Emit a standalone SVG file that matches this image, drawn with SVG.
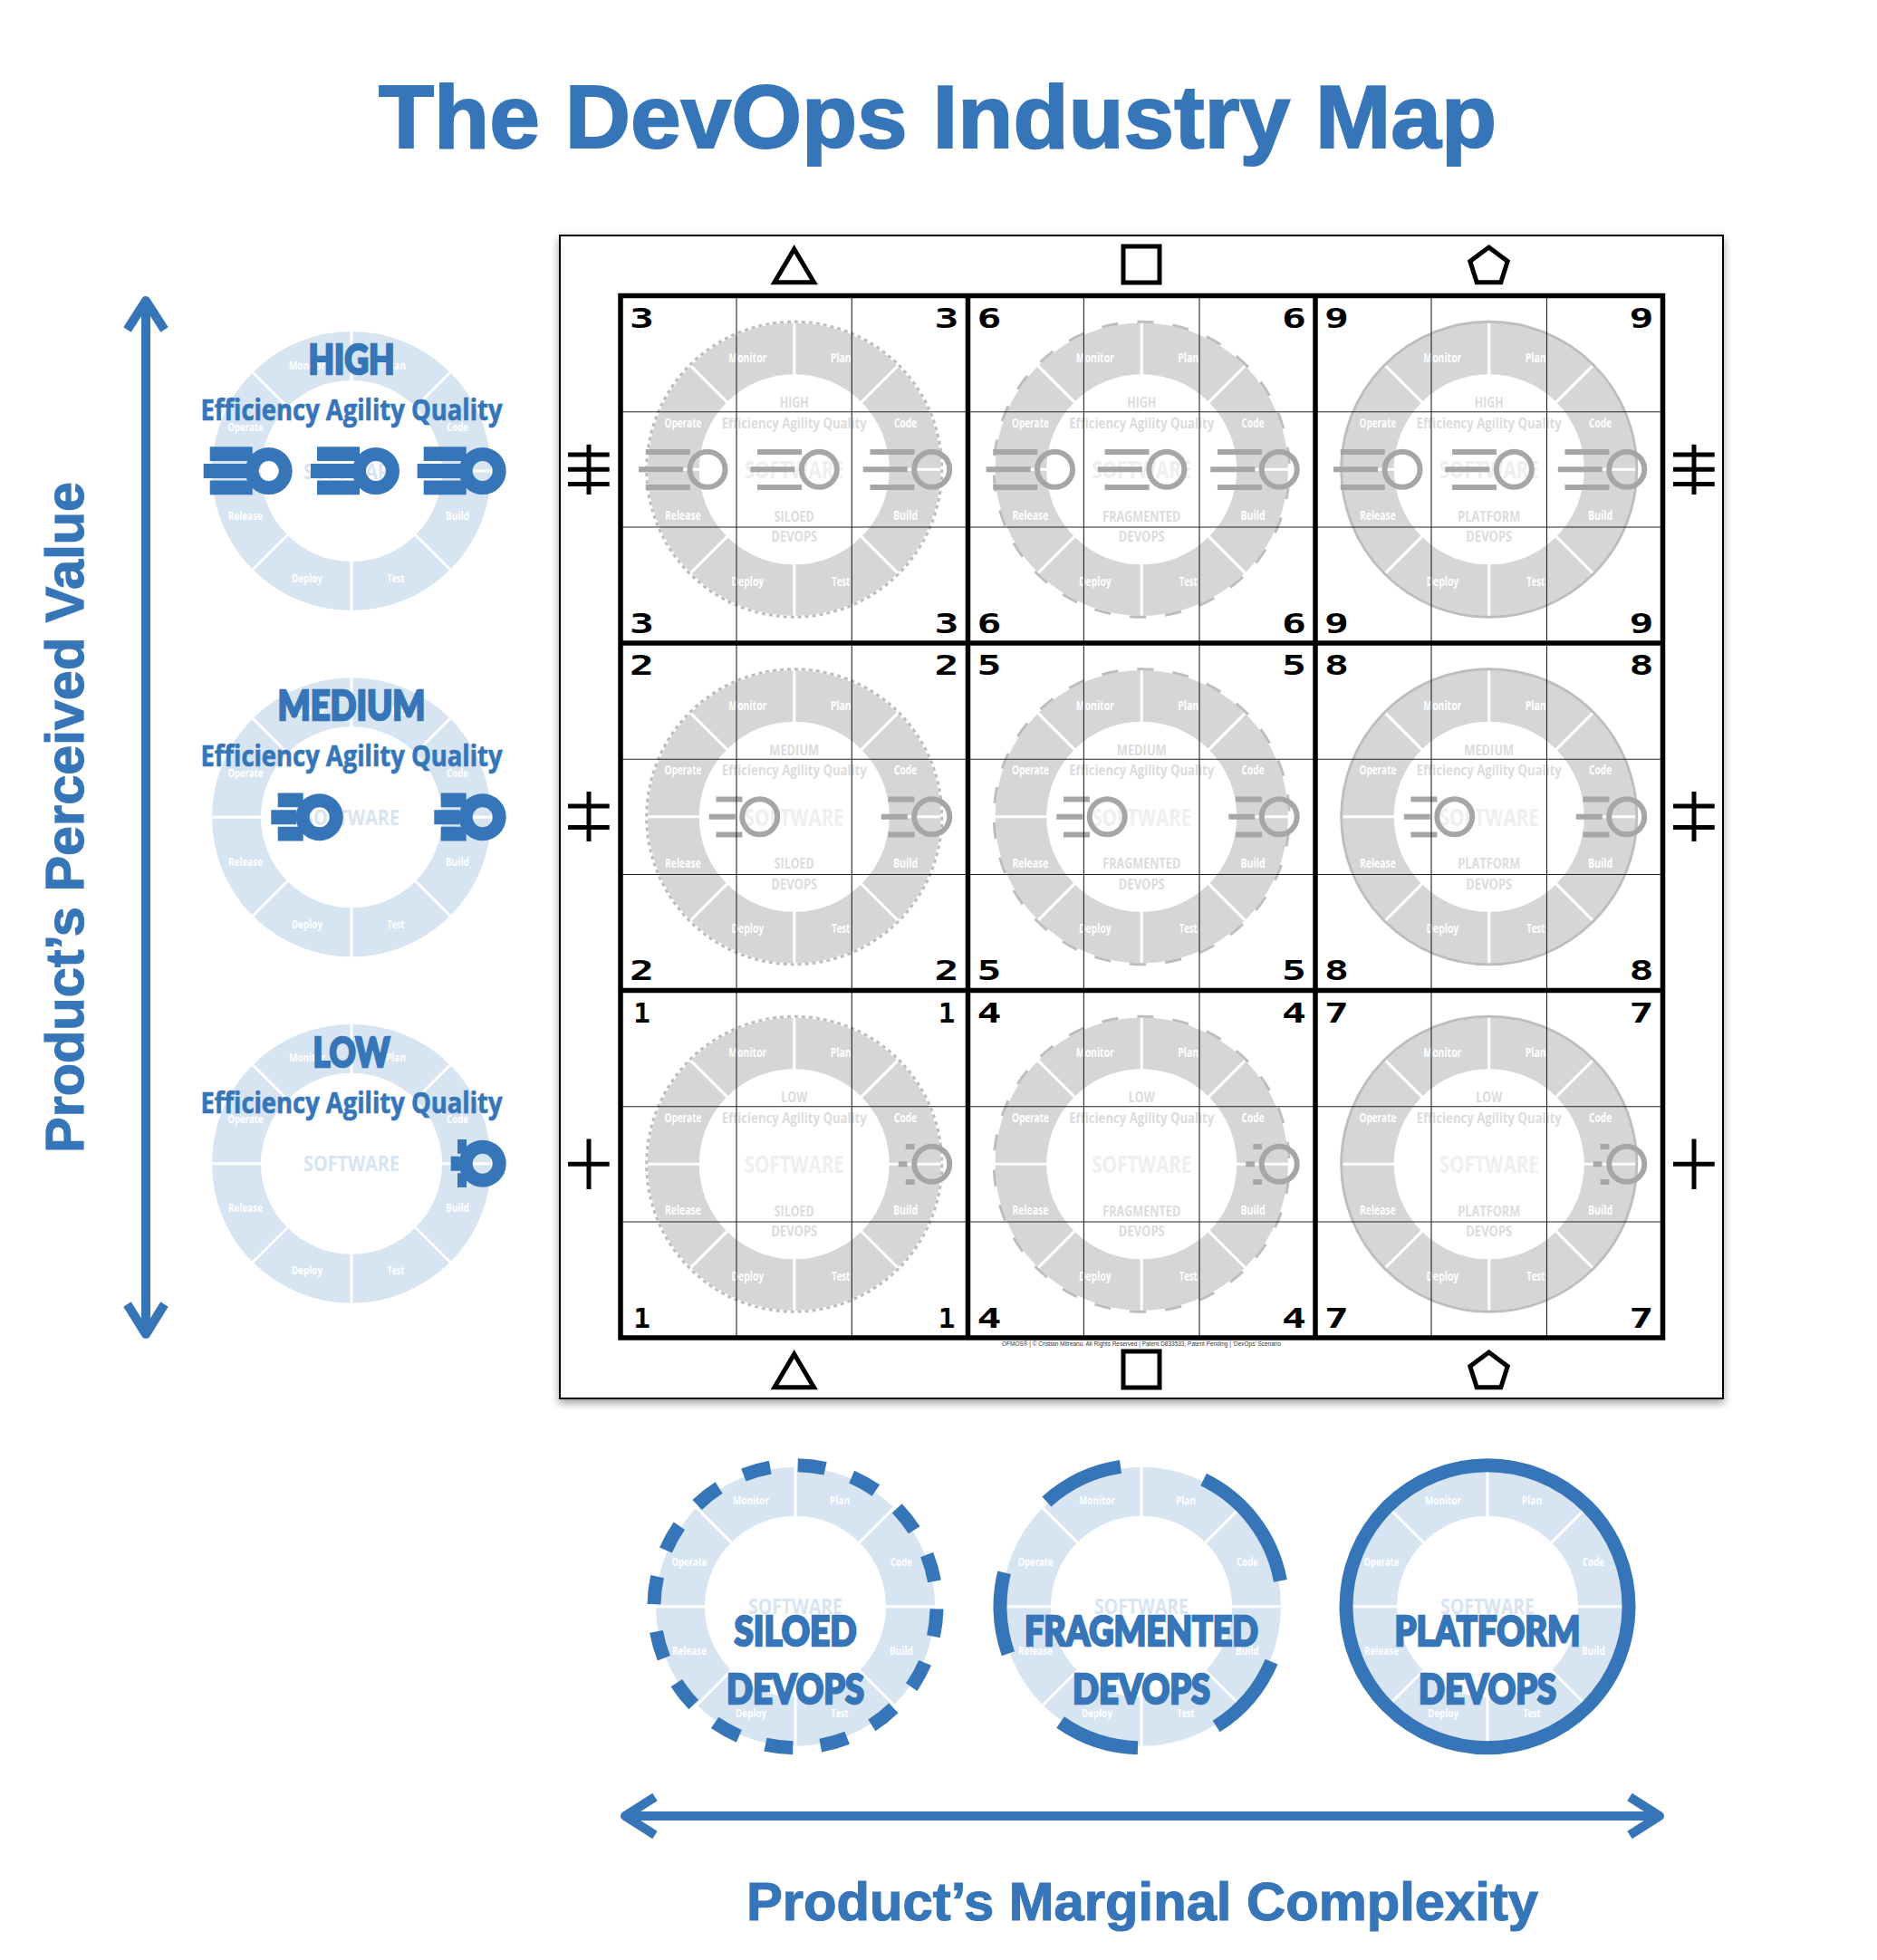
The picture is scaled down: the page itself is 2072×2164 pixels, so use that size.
<svg xmlns="http://www.w3.org/2000/svg" width="2072" height="2164" viewBox="0 0 2072 2164">
<style>
text{text-anchor:middle}
.ttl{font:700 99px "Liberation Sans",Arial,sans-serif;fill:#3676b8;stroke:#3676b8;stroke-width:2}
.ax{font:700 60px "Liberation Sans",Arial,sans-serif;fill:#3676b8;stroke:#3676b8;stroke-width:1.2;text-anchor:start}
.foot{font:400 6.6px "Liberation Sans",Arial,sans-serif;fill:#333}
.lbl text{font:700 13px "Open Sans","Liberation Sans",sans-serif;fill:#fff}
.num{font:700 31px "DejaVu Sans Mono","Liberation Mono",monospace;fill:#000}
.hv{font-family:Lato,"Liberation Sans",sans-serif;font-weight:900;stroke:#3676b8;stroke-width:2.6}
.ob{font-family:"Open Sans","Liberation Sans",sans-serif;font-weight:700}
.b{fill:#3676b8}
.ob.b{stroke:#3676b8;stroke-width:.7}
.sw{fill:#d7e4f1}
.bl{color:#d7e4f1}
.gy{color:#d6d6d6}
.ct{fill:#dcdcdc}
.cs{fill:#efefef}
.blr{fill:none;stroke:#3676b8;stroke-width:15}
.grr{fill:none;stroke:#bdbdbd;stroke-width:3}
.gg{fill:#a6a6a6;stroke:#a6a6a6}
.gb{fill:#3676b8;stroke:#3676b8}
.thick{fill:none;stroke:#000;stroke-width:5.5}
.thin{fill:none;stroke:#222;stroke-width:1.1}
.sym{fill:none;stroke:#000;stroke-width:5;stroke-miterlimit:10}
.tal{fill:none;stroke:#000;stroke-width:5}
.arr{fill:none;stroke:#3676b8;stroke-width:10;stroke-linejoin:round}
</style>
<defs>
<filter id="shadow" x="-5%" y="-5%" width="110%" height="110%"><feDropShadow dx="0" dy="4" stdDeviation="5" flood-color="#000" flood-opacity=".4"/></filter>
<g id="wheel">
<circle r="127" fill="none" stroke="currentColor" stroke-width="54"/>
<path d="M0-98V-156M0 98V156M-98 0H-156M98 0H156M69.3-69.3L110.3-110.3M-69.3-69.3L-110.3-110.3M69.3 69.3L110.3 110.3M-69.3 69.3L-110.3 110.3" fill="none" stroke="#fff" stroke-width="3"/>
</g>
<g id="g3"><path stroke="none" d="M-68.3-22.3h49v6h-49zM-76-3h49v6h-49zM-68.3 16.7h49v6h-49z"/><circle r="19.5" fill="none" stroke-width="6"/></g>
<g id="g2"><path stroke="none" d="M-48.3-22.3h29v6h-29zM-56-3h29v6h-29zM-48.3 16.7h29v6h-29z"/><circle r="19.5" fill="none" stroke-width="6"/></g>
<g id="g1"><path stroke="none" d="M-29-22.3h9.7v6h-9.7zM-37-3h9.7v6h-9.7zM-29 16.7h9.7v6h-9.7z"/><circle r="19.5" fill="none" stroke-width="6"/></g>
<g id="b3"><path stroke="none" d="M-65-26.7h47v15.7h-47zM-72-8h48v16h-48zM-65 10.5h47v15.7h-47z"/><circle r="18.5" fill="none" stroke-width="15"/></g>
<g id="b2"><path stroke="none" d="M-46-26.7h28v15.7h-28zM-53.4-8h28v16h-28zM-46 10.5h28v15.7h-28z"/><circle r="18.5" fill="none" stroke-width="15"/></g>
<g id="b1"><path stroke="none" d="M-27.7-26.7h10v15.7h-10zM-35-8h10v16h-10zM-27.7 10.5h10v15.7h-10z"/><circle r="18.5" fill="none" stroke-width="15"/></g>
</defs>
<rect width="2072" height="2164" fill="#fff"/>
<text class="ttl" x="1035" y="163" textLength="1234" lengthAdjust="spacingAndGlyphs">The DevOps Industry Map</text>

<g id="connectors">
<path class="arr" d="M161 332V1473M140.5 364L161 332L181.5 364M140.5 1440L161 1473L181.5 1440"/>
<path class="arr" d="M690 2005H1832M723 1984L690 2005L723 2026M1799 1984L1832 2005L1799 2026"/>
</g>
<text class="ax" transform="translate(92,1273) rotate(-90)" textLength="741" lengthAdjust="spacingAndGlyphs">Product’s Perceived Value</text>
<text class="ax" x="824" y="2120" textLength="874" lengthAdjust="spacingAndGlyphs">Product’s Marginal Complexity</text>

<g id="value-high" class="bl" transform="translate(388,520)">
<use href="#wheel"/>
<g class="lbl"><text x="-49" y="-112.5" textLength="40" lengthAdjust="spacingAndGlyphs">Monitor</text><text x="49" y="-112.5" textLength="22" lengthAdjust="spacingAndGlyphs">Plan</text><text x="117" y="-44.5" textLength="24" lengthAdjust="spacingAndGlyphs">Code</text><text x="117" y="53.5" textLength="26" lengthAdjust="spacingAndGlyphs">Build</text><text x="49" y="122.5" textLength="19" lengthAdjust="spacingAndGlyphs">Test</text><text x="-49" y="122.5" textLength="34" lengthAdjust="spacingAndGlyphs">Deploy</text><text x="-117" y="53.5" textLength="38" lengthAdjust="spacingAndGlyphs">Release</text><text x="-117" y="-44.5" textLength="39" lengthAdjust="spacingAndGlyphs">Operate</text></g>
<text class="ob sw" y="8.5" font-size="24" textLength="106" lengthAdjust="spacingAndGlyphs">SOFTWARE</text>
<text class="hv b" y="-107" font-size="46" textLength="95" lengthAdjust="spacingAndGlyphs">HIGH</text>
<text class="ob b" y="-56" font-size="33" textLength="333" lengthAdjust="spacingAndGlyphs">Efficiency Agility Quality</text>
<use href="#b3" class="gb" x="-91.3"/><use href="#b3" class="gb" x="27"/><use href="#b3" class="gb" x="144.7"/>
</g>
<g id="value-medium" class="bl" transform="translate(388,902.2)">
<use href="#wheel"/>
<g class="lbl"><text x="-49" y="-112.5" textLength="40" lengthAdjust="spacingAndGlyphs">Monitor</text><text x="49" y="-112.5" textLength="22" lengthAdjust="spacingAndGlyphs">Plan</text><text x="117" y="-44.5" textLength="24" lengthAdjust="spacingAndGlyphs">Code</text><text x="117" y="53.5" textLength="26" lengthAdjust="spacingAndGlyphs">Build</text><text x="49" y="122.5" textLength="19" lengthAdjust="spacingAndGlyphs">Test</text><text x="-49" y="122.5" textLength="34" lengthAdjust="spacingAndGlyphs">Deploy</text><text x="-117" y="53.5" textLength="38" lengthAdjust="spacingAndGlyphs">Release</text><text x="-117" y="-44.5" textLength="39" lengthAdjust="spacingAndGlyphs">Operate</text></g>
<text class="ob sw" y="8.5" font-size="24" textLength="106" lengthAdjust="spacingAndGlyphs">SOFTWARE</text>
<text class="hv b" y="-107" font-size="46" textLength="163" lengthAdjust="spacingAndGlyphs">MEDIUM</text>
<text class="ob b" y="-56" font-size="33" textLength="333" lengthAdjust="spacingAndGlyphs">Efficiency Agility Quality</text>
<use href="#b2" class="gb" x="-35.3"/><use href="#b2" class="gb" x="144.7"/>
</g>
<g id="value-low" class="bl" transform="translate(388,1284.7)">
<use href="#wheel"/>
<g class="lbl"><text x="-49" y="-112.5" textLength="40" lengthAdjust="spacingAndGlyphs">Monitor</text><text x="49" y="-112.5" textLength="22" lengthAdjust="spacingAndGlyphs">Plan</text><text x="117" y="-44.5" textLength="24" lengthAdjust="spacingAndGlyphs">Code</text><text x="117" y="53.5" textLength="26" lengthAdjust="spacingAndGlyphs">Build</text><text x="49" y="122.5" textLength="19" lengthAdjust="spacingAndGlyphs">Test</text><text x="-49" y="122.5" textLength="34" lengthAdjust="spacingAndGlyphs">Deploy</text><text x="-117" y="53.5" textLength="38" lengthAdjust="spacingAndGlyphs">Release</text><text x="-117" y="-44.5" textLength="39" lengthAdjust="spacingAndGlyphs">Operate</text></g>
<text class="ob sw" y="8.5" font-size="24" textLength="106" lengthAdjust="spacingAndGlyphs">SOFTWARE</text>
<text class="hv b" y="-107" font-size="46" textLength="85" lengthAdjust="spacingAndGlyphs">LOW</text>
<text class="ob b" y="-56" font-size="33" textLength="333" lengthAdjust="spacingAndGlyphs">Efficiency Agility Quality</text>
<use href="#b1" class="gb" x="144.7"/>
</g>

<g id="board">
<rect x="618" y="260" width="1284" height="1284" fill="#fff" stroke="#000" stroke-width="2" filter="url(#shadow)"/>
</g>

<g id="cell-3" class="gy" transform="translate(876.75,518.25)">
<g transform="scale(1.05)"><use href="#wheel"/><g class="lbl"><text x="-49" y="-112.5" textLength="40" lengthAdjust="spacingAndGlyphs">Monitor</text><text x="49" y="-112.5" textLength="22" lengthAdjust="spacingAndGlyphs">Plan</text><text x="117" y="-44.5" textLength="24" lengthAdjust="spacingAndGlyphs">Code</text><text x="117" y="53.5" textLength="26" lengthAdjust="spacingAndGlyphs">Build</text><text x="49" y="122.5" textLength="19" lengthAdjust="spacingAndGlyphs">Test</text><text x="-49" y="122.5" textLength="34" lengthAdjust="spacingAndGlyphs">Deploy</text><text x="-117" y="53.5" textLength="38" lengthAdjust="spacingAndGlyphs">Release</text><text x="-117" y="-44.5" textLength="39" lengthAdjust="spacingAndGlyphs">Operate</text></g></g>
<circle class="grr" r="163" stroke-dasharray="4 4"/>
<text class="ob ct" y="-68" font-size="16" textLength="32" lengthAdjust="spacingAndGlyphs">HIGH</text>
<text class="ob ct" y="-45.5" font-size="16" textLength="160" lengthAdjust="spacingAndGlyphs">Efficiency Agility Quality</text>
<text class="ob cs" y="10" font-size="26" textLength="110" lengthAdjust="spacingAndGlyphs">SOFTWARE</text>
<text class="ob ct" y="57.5" font-size="16" textLength="44" lengthAdjust="spacingAndGlyphs">SILOED</text>
<text class="ob ct" y="80" font-size="16" textLength="51" lengthAdjust="spacingAndGlyphs">DEVOPS</text>
<use href="#g3" class="gg" x="-95.7"/><use href="#g3" class="gg" x="27.6"/><use href="#g3" class="gg" x="152"/>
</g>
<g id="cell-6" class="gy" transform="translate(1260.25,518.25)">
<g transform="scale(1.05)"><use href="#wheel"/><g class="lbl"><text x="-49" y="-112.5" textLength="40" lengthAdjust="spacingAndGlyphs">Monitor</text><text x="49" y="-112.5" textLength="22" lengthAdjust="spacingAndGlyphs">Plan</text><text x="117" y="-44.5" textLength="24" lengthAdjust="spacingAndGlyphs">Code</text><text x="117" y="53.5" textLength="26" lengthAdjust="spacingAndGlyphs">Build</text><text x="49" y="122.5" textLength="19" lengthAdjust="spacingAndGlyphs">Test</text><text x="-49" y="122.5" textLength="34" lengthAdjust="spacingAndGlyphs">Deploy</text><text x="-117" y="53.5" textLength="38" lengthAdjust="spacingAndGlyphs">Release</text><text x="-117" y="-44.5" textLength="39" lengthAdjust="spacingAndGlyphs">Operate</text></g></g>
<circle class="grr" r="163" pathLength="360" stroke-dasharray="6.4 7.446" stroke-dashoffset="-5.2"/>
<text class="ob ct" y="-68" font-size="16" textLength="32" lengthAdjust="spacingAndGlyphs">HIGH</text>
<text class="ob ct" y="-45.5" font-size="16" textLength="160" lengthAdjust="spacingAndGlyphs">Efficiency Agility Quality</text>
<text class="ob cs" y="10" font-size="26" textLength="110" lengthAdjust="spacingAndGlyphs">SOFTWARE</text>
<text class="ob ct" y="57.5" font-size="16" textLength="86" lengthAdjust="spacingAndGlyphs">FRAGMENTED</text>
<text class="ob ct" y="80" font-size="16" textLength="51" lengthAdjust="spacingAndGlyphs">DEVOPS</text>
<use href="#g3" class="gg" x="-95.7"/><use href="#g3" class="gg" x="27.6"/><use href="#g3" class="gg" x="152"/>
</g>
<g id="cell-9" class="gy" transform="translate(1643.75,518.25)">
<g transform="scale(1.05)"><use href="#wheel"/><g class="lbl"><text x="-49" y="-112.5" textLength="40" lengthAdjust="spacingAndGlyphs">Monitor</text><text x="49" y="-112.5" textLength="22" lengthAdjust="spacingAndGlyphs">Plan</text><text x="117" y="-44.5" textLength="24" lengthAdjust="spacingAndGlyphs">Code</text><text x="117" y="53.5" textLength="26" lengthAdjust="spacingAndGlyphs">Build</text><text x="49" y="122.5" textLength="19" lengthAdjust="spacingAndGlyphs">Test</text><text x="-49" y="122.5" textLength="34" lengthAdjust="spacingAndGlyphs">Deploy</text><text x="-117" y="53.5" textLength="38" lengthAdjust="spacingAndGlyphs">Release</text><text x="-117" y="-44.5" textLength="39" lengthAdjust="spacingAndGlyphs">Operate</text></g></g>
<circle class="grr" r="163"/>
<text class="ob ct" y="-68" font-size="16" textLength="32" lengthAdjust="spacingAndGlyphs">HIGH</text>
<text class="ob ct" y="-45.5" font-size="16" textLength="160" lengthAdjust="spacingAndGlyphs">Efficiency Agility Quality</text>
<text class="ob cs" y="10" font-size="26" textLength="110" lengthAdjust="spacingAndGlyphs">SOFTWARE</text>
<text class="ob ct" y="57.5" font-size="16" textLength="69" lengthAdjust="spacingAndGlyphs">PLATFORM</text>
<text class="ob ct" y="80" font-size="16" textLength="51" lengthAdjust="spacingAndGlyphs">DEVOPS</text>
<use href="#g3" class="gg" x="-95.7"/><use href="#g3" class="gg" x="27.6"/><use href="#g3" class="gg" x="152"/>
</g>
<g id="cell-2" class="gy" transform="translate(876.75,901.75)">
<g transform="scale(1.05)"><use href="#wheel"/><g class="lbl"><text x="-49" y="-112.5" textLength="40" lengthAdjust="spacingAndGlyphs">Monitor</text><text x="49" y="-112.5" textLength="22" lengthAdjust="spacingAndGlyphs">Plan</text><text x="117" y="-44.5" textLength="24" lengthAdjust="spacingAndGlyphs">Code</text><text x="117" y="53.5" textLength="26" lengthAdjust="spacingAndGlyphs">Build</text><text x="49" y="122.5" textLength="19" lengthAdjust="spacingAndGlyphs">Test</text><text x="-49" y="122.5" textLength="34" lengthAdjust="spacingAndGlyphs">Deploy</text><text x="-117" y="53.5" textLength="38" lengthAdjust="spacingAndGlyphs">Release</text><text x="-117" y="-44.5" textLength="39" lengthAdjust="spacingAndGlyphs">Operate</text></g></g>
<circle class="grr" r="163" stroke-dasharray="4 4"/>
<text class="ob ct" y="-68" font-size="16" textLength="55" lengthAdjust="spacingAndGlyphs">MEDIUM</text>
<text class="ob ct" y="-45.5" font-size="16" textLength="160" lengthAdjust="spacingAndGlyphs">Efficiency Agility Quality</text>
<text class="ob cs" y="10" font-size="26" textLength="110" lengthAdjust="spacingAndGlyphs">SOFTWARE</text>
<text class="ob ct" y="57.5" font-size="16" textLength="44" lengthAdjust="spacingAndGlyphs">SILOED</text>
<text class="ob ct" y="80" font-size="16" textLength="51" lengthAdjust="spacingAndGlyphs">DEVOPS</text>
<use href="#g2" class="gg" x="-38"/><use href="#g2" class="gg" x="152"/>
</g>
<g id="cell-5" class="gy" transform="translate(1260.25,901.75)">
<g transform="scale(1.05)"><use href="#wheel"/><g class="lbl"><text x="-49" y="-112.5" textLength="40" lengthAdjust="spacingAndGlyphs">Monitor</text><text x="49" y="-112.5" textLength="22" lengthAdjust="spacingAndGlyphs">Plan</text><text x="117" y="-44.5" textLength="24" lengthAdjust="spacingAndGlyphs">Code</text><text x="117" y="53.5" textLength="26" lengthAdjust="spacingAndGlyphs">Build</text><text x="49" y="122.5" textLength="19" lengthAdjust="spacingAndGlyphs">Test</text><text x="-49" y="122.5" textLength="34" lengthAdjust="spacingAndGlyphs">Deploy</text><text x="-117" y="53.5" textLength="38" lengthAdjust="spacingAndGlyphs">Release</text><text x="-117" y="-44.5" textLength="39" lengthAdjust="spacingAndGlyphs">Operate</text></g></g>
<circle class="grr" r="163" pathLength="360" stroke-dasharray="6.4 7.446" stroke-dashoffset="-5.2"/>
<text class="ob ct" y="-68" font-size="16" textLength="55" lengthAdjust="spacingAndGlyphs">MEDIUM</text>
<text class="ob ct" y="-45.5" font-size="16" textLength="160" lengthAdjust="spacingAndGlyphs">Efficiency Agility Quality</text>
<text class="ob cs" y="10" font-size="26" textLength="110" lengthAdjust="spacingAndGlyphs">SOFTWARE</text>
<text class="ob ct" y="57.5" font-size="16" textLength="86" lengthAdjust="spacingAndGlyphs">FRAGMENTED</text>
<text class="ob ct" y="80" font-size="16" textLength="51" lengthAdjust="spacingAndGlyphs">DEVOPS</text>
<use href="#g2" class="gg" x="-38"/><use href="#g2" class="gg" x="152"/>
</g>
<g id="cell-8" class="gy" transform="translate(1643.75,901.75)">
<g transform="scale(1.05)"><use href="#wheel"/><g class="lbl"><text x="-49" y="-112.5" textLength="40" lengthAdjust="spacingAndGlyphs">Monitor</text><text x="49" y="-112.5" textLength="22" lengthAdjust="spacingAndGlyphs">Plan</text><text x="117" y="-44.5" textLength="24" lengthAdjust="spacingAndGlyphs">Code</text><text x="117" y="53.5" textLength="26" lengthAdjust="spacingAndGlyphs">Build</text><text x="49" y="122.5" textLength="19" lengthAdjust="spacingAndGlyphs">Test</text><text x="-49" y="122.5" textLength="34" lengthAdjust="spacingAndGlyphs">Deploy</text><text x="-117" y="53.5" textLength="38" lengthAdjust="spacingAndGlyphs">Release</text><text x="-117" y="-44.5" textLength="39" lengthAdjust="spacingAndGlyphs">Operate</text></g></g>
<circle class="grr" r="163"/>
<text class="ob ct" y="-68" font-size="16" textLength="55" lengthAdjust="spacingAndGlyphs">MEDIUM</text>
<text class="ob ct" y="-45.5" font-size="16" textLength="160" lengthAdjust="spacingAndGlyphs">Efficiency Agility Quality</text>
<text class="ob cs" y="10" font-size="26" textLength="110" lengthAdjust="spacingAndGlyphs">SOFTWARE</text>
<text class="ob ct" y="57.5" font-size="16" textLength="69" lengthAdjust="spacingAndGlyphs">PLATFORM</text>
<text class="ob ct" y="80" font-size="16" textLength="51" lengthAdjust="spacingAndGlyphs">DEVOPS</text>
<use href="#g2" class="gg" x="-38"/><use href="#g2" class="gg" x="152"/>
</g>
<g id="cell-1" class="gy" transform="translate(876.75,1285.25)">
<g transform="scale(1.05)"><use href="#wheel"/><g class="lbl"><text x="-49" y="-112.5" textLength="40" lengthAdjust="spacingAndGlyphs">Monitor</text><text x="49" y="-112.5" textLength="22" lengthAdjust="spacingAndGlyphs">Plan</text><text x="117" y="-44.5" textLength="24" lengthAdjust="spacingAndGlyphs">Code</text><text x="117" y="53.5" textLength="26" lengthAdjust="spacingAndGlyphs">Build</text><text x="49" y="122.5" textLength="19" lengthAdjust="spacingAndGlyphs">Test</text><text x="-49" y="122.5" textLength="34" lengthAdjust="spacingAndGlyphs">Deploy</text><text x="-117" y="53.5" textLength="38" lengthAdjust="spacingAndGlyphs">Release</text><text x="-117" y="-44.5" textLength="39" lengthAdjust="spacingAndGlyphs">Operate</text></g></g>
<circle class="grr" r="163" stroke-dasharray="4 4"/>
<text class="ob ct" y="-68" font-size="16" textLength="29" lengthAdjust="spacingAndGlyphs">LOW</text>
<text class="ob ct" y="-45.5" font-size="16" textLength="160" lengthAdjust="spacingAndGlyphs">Efficiency Agility Quality</text>
<text class="ob cs" y="10" font-size="26" textLength="110" lengthAdjust="spacingAndGlyphs">SOFTWARE</text>
<text class="ob ct" y="57.5" font-size="16" textLength="44" lengthAdjust="spacingAndGlyphs">SILOED</text>
<text class="ob ct" y="80" font-size="16" textLength="51" lengthAdjust="spacingAndGlyphs">DEVOPS</text>
<use href="#g1" class="gg" x="152"/>
</g>
<g id="cell-4" class="gy" transform="translate(1260.25,1285.25)">
<g transform="scale(1.05)"><use href="#wheel"/><g class="lbl"><text x="-49" y="-112.5" textLength="40" lengthAdjust="spacingAndGlyphs">Monitor</text><text x="49" y="-112.5" textLength="22" lengthAdjust="spacingAndGlyphs">Plan</text><text x="117" y="-44.5" textLength="24" lengthAdjust="spacingAndGlyphs">Code</text><text x="117" y="53.5" textLength="26" lengthAdjust="spacingAndGlyphs">Build</text><text x="49" y="122.5" textLength="19" lengthAdjust="spacingAndGlyphs">Test</text><text x="-49" y="122.5" textLength="34" lengthAdjust="spacingAndGlyphs">Deploy</text><text x="-117" y="53.5" textLength="38" lengthAdjust="spacingAndGlyphs">Release</text><text x="-117" y="-44.5" textLength="39" lengthAdjust="spacingAndGlyphs">Operate</text></g></g>
<circle class="grr" r="163" pathLength="360" stroke-dasharray="6.4 7.446" stroke-dashoffset="-5.2"/>
<text class="ob ct" y="-68" font-size="16" textLength="29" lengthAdjust="spacingAndGlyphs">LOW</text>
<text class="ob ct" y="-45.5" font-size="16" textLength="160" lengthAdjust="spacingAndGlyphs">Efficiency Agility Quality</text>
<text class="ob cs" y="10" font-size="26" textLength="110" lengthAdjust="spacingAndGlyphs">SOFTWARE</text>
<text class="ob ct" y="57.5" font-size="16" textLength="86" lengthAdjust="spacingAndGlyphs">FRAGMENTED</text>
<text class="ob ct" y="80" font-size="16" textLength="51" lengthAdjust="spacingAndGlyphs">DEVOPS</text>
<use href="#g1" class="gg" x="152"/>
</g>
<g id="cell-7" class="gy" transform="translate(1643.75,1285.25)">
<g transform="scale(1.05)"><use href="#wheel"/><g class="lbl"><text x="-49" y="-112.5" textLength="40" lengthAdjust="spacingAndGlyphs">Monitor</text><text x="49" y="-112.5" textLength="22" lengthAdjust="spacingAndGlyphs">Plan</text><text x="117" y="-44.5" textLength="24" lengthAdjust="spacingAndGlyphs">Code</text><text x="117" y="53.5" textLength="26" lengthAdjust="spacingAndGlyphs">Build</text><text x="49" y="122.5" textLength="19" lengthAdjust="spacingAndGlyphs">Test</text><text x="-49" y="122.5" textLength="34" lengthAdjust="spacingAndGlyphs">Deploy</text><text x="-117" y="53.5" textLength="38" lengthAdjust="spacingAndGlyphs">Release</text><text x="-117" y="-44.5" textLength="39" lengthAdjust="spacingAndGlyphs">Operate</text></g></g>
<circle class="grr" r="163"/>
<text class="ob ct" y="-68" font-size="16" textLength="29" lengthAdjust="spacingAndGlyphs">LOW</text>
<text class="ob ct" y="-45.5" font-size="16" textLength="160" lengthAdjust="spacingAndGlyphs">Efficiency Agility Quality</text>
<text class="ob cs" y="10" font-size="26" textLength="110" lengthAdjust="spacingAndGlyphs">SOFTWARE</text>
<text class="ob ct" y="57.5" font-size="16" textLength="69" lengthAdjust="spacingAndGlyphs">PLATFORM</text>
<text class="ob ct" y="80" font-size="16" textLength="51" lengthAdjust="spacingAndGlyphs">DEVOPS</text>
<use href="#g1" class="gg" x="152"/>
</g>

<g id="grid">
<path class="thin" d="M813 326.5V1477M940.3 326.5V1477M1196.4 326.5V1477M1324 326.5V1477M1580 326.5V1477M1707.5 326.5V1477M685 454.7H1835.5M685 582H1835.5M685 838.2H1835.5M685 965.5H1835.5M685 1221.7H1835.5M685 1349H1835.5"/>
<path class="thick" d="M685 326.5H1835.5V1477H685ZM1068.5 326.5V1477M1452 326.5V1477M685 710H1835.5M685 1093.5H1835.5"/>
</g>

<g id="numbers" class="num">
<text x="708.5" y="361.5" textLength="27" lengthAdjust="spacingAndGlyphs">3</text><text x="1045" y="361.5" textLength="27" lengthAdjust="spacingAndGlyphs">3</text><text x="708.5" y="698.5" textLength="27" lengthAdjust="spacingAndGlyphs">3</text><text x="1045" y="698.5" textLength="27" lengthAdjust="spacingAndGlyphs">3</text>
<text x="1092" y="361.5" textLength="27" lengthAdjust="spacingAndGlyphs">6</text><text x="1428.5" y="361.5" textLength="27" lengthAdjust="spacingAndGlyphs">6</text><text x="1092" y="698.5" textLength="27" lengthAdjust="spacingAndGlyphs">6</text><text x="1428.5" y="698.5" textLength="27" lengthAdjust="spacingAndGlyphs">6</text>
<text x="1475.5" y="361.5" textLength="27" lengthAdjust="spacingAndGlyphs">9</text><text x="1812" y="361.5" textLength="27" lengthAdjust="spacingAndGlyphs">9</text><text x="1475.5" y="698.5" textLength="27" lengthAdjust="spacingAndGlyphs">9</text><text x="1812" y="698.5" textLength="27" lengthAdjust="spacingAndGlyphs">9</text>
<text x="708.5" y="745" textLength="27" lengthAdjust="spacingAndGlyphs">2</text><text x="1045" y="745" textLength="27" lengthAdjust="spacingAndGlyphs">2</text><text x="708.5" y="1082" textLength="27" lengthAdjust="spacingAndGlyphs">2</text><text x="1045" y="1082" textLength="27" lengthAdjust="spacingAndGlyphs">2</text>
<text x="1092" y="745" textLength="27" lengthAdjust="spacingAndGlyphs">5</text><text x="1428.5" y="745" textLength="27" lengthAdjust="spacingAndGlyphs">5</text><text x="1092" y="1082" textLength="27" lengthAdjust="spacingAndGlyphs">5</text><text x="1428.5" y="1082" textLength="27" lengthAdjust="spacingAndGlyphs">5</text>
<text x="1475.5" y="745" textLength="27" lengthAdjust="spacingAndGlyphs">8</text><text x="1812" y="745" textLength="27" lengthAdjust="spacingAndGlyphs">8</text><text x="1475.5" y="1082" textLength="27" lengthAdjust="spacingAndGlyphs">8</text><text x="1812" y="1082" textLength="27" lengthAdjust="spacingAndGlyphs">8</text>
<text x="708.5" y="1128.5">1</text><text x="1045" y="1128.5">1</text><text x="708.5" y="1465.5">1</text><text x="1045" y="1465.5">1</text>
<text x="1092" y="1128.5" textLength="27" lengthAdjust="spacingAndGlyphs">4</text><text x="1428.5" y="1128.5" textLength="27" lengthAdjust="spacingAndGlyphs">4</text><text x="1092" y="1465.5" textLength="27" lengthAdjust="spacingAndGlyphs">4</text><text x="1428.5" y="1465.5" textLength="27" lengthAdjust="spacingAndGlyphs">4</text>
<text x="1475.5" y="1128.5" textLength="27" lengthAdjust="spacingAndGlyphs">7</text><text x="1812" y="1128.5" textLength="27" lengthAdjust="spacingAndGlyphs">7</text><text x="1475.5" y="1465.5" textLength="27" lengthAdjust="spacingAndGlyphs">7</text><text x="1812" y="1465.5" textLength="27" lengthAdjust="spacingAndGlyphs">7</text>
</g>

<g id="shapes-top">
<path class="sym" d="M876.7 275L898.5 311.8H854.9Z"/>
<rect class="sym" x="1240" y="272" width="40" height="40"/>
<path class="sym" d="M1643.5 273L1664.2 288.5L1656.8 311.8H1630.2L1622.8 288.5Z"/>
</g>
<g id="shapes-bottom">
<path class="sym" d="M876.7 1495L898.5 1531.8H854.9Z"/>
<rect class="sym" x="1240" y="1492" width="40" height="40"/>
<path class="sym" d="M1643.5 1493L1664.2 1508.5L1656.8 1531.8H1630.2L1622.8 1508.5Z"/>
</g>
<g id="tally-left">
<path class="tal" d="M650 490.7V546M627 502H672.7M627 518.3H672.7M627 534.6H672.7"/>
<path class="tal" d="M650 874V929M627 890H672.7M627 913.5H672.7"/>
<path class="tal" d="M650 1257.5V1313M627 1285.2H672.7"/>
</g>
<g id="tally-right">
<path class="tal" d="M1870 490.7V546M1847 502H1892.7M1847 518.3H1892.7M1847 534.6H1892.7"/>
<path class="tal" d="M1870 874V929M1847 890H1892.7M1847 913.5H1892.7"/>
<path class="tal" d="M1870 1257.5V1313M1847 1285.2H1892.7"/>
</g>
<text class="foot" x="1260" y="1485.8" textLength="308" lengthAdjust="spacingAndGlyphs">OFMOS® | © Cristian Mitreanu. All Rights Reserved | Patent D833533, Patent Pending | ‘DevOps’ Scenario</text>

<g id="siloed" class="bl" transform="translate(878,1773.7)">
<use href="#wheel"/>
<g class="lbl"><text x="-49" y="-112.5" textLength="40" lengthAdjust="spacingAndGlyphs">Monitor</text><text x="49" y="-112.5" textLength="22" lengthAdjust="spacingAndGlyphs">Plan</text><text x="117" y="-44.5" textLength="24" lengthAdjust="spacingAndGlyphs">Code</text><text x="117" y="53.5" textLength="26" lengthAdjust="spacingAndGlyphs">Build</text><text x="49" y="122.5" textLength="19" lengthAdjust="spacingAndGlyphs">Test</text><text x="-49" y="122.5" textLength="34" lengthAdjust="spacingAndGlyphs">Deploy</text><text x="-117" y="53.5" textLength="38" lengthAdjust="spacingAndGlyphs">Release</text><text x="-117" y="-44.5" textLength="39" lengthAdjust="spacingAndGlyphs">Operate</text></g>
<circle class="blr" r="156" pathLength="360" stroke-dasharray="11.25 11.25" stroke-dashoffset="-1"/>
<text class="ob sw" y="8.3" font-size="24" textLength="104" lengthAdjust="spacingAndGlyphs">SOFTWARE</text>
<text class="hv b" y="43" font-size="46" textLength="135" lengthAdjust="spacingAndGlyphs">SILOED</text>
<text class="hv b" y="107.5" font-size="46" textLength="152" lengthAdjust="spacingAndGlyphs">DEVOPS</text>
</g>
<g id="fragmented" class="bl" transform="translate(1260,1773.7)">
<use href="#wheel"/>
<g class="lbl"><text x="-49" y="-112.5" textLength="40" lengthAdjust="spacingAndGlyphs">Monitor</text><text x="49" y="-112.5" textLength="22" lengthAdjust="spacingAndGlyphs">Plan</text><text x="117" y="-44.5" textLength="24" lengthAdjust="spacingAndGlyphs">Code</text><text x="117" y="53.5" textLength="26" lengthAdjust="spacingAndGlyphs">Build</text><text x="49" y="122.5" textLength="19" lengthAdjust="spacingAndGlyphs">Test</text><text x="-49" y="122.5" textLength="34" lengthAdjust="spacingAndGlyphs">Deploy</text><text x="-117" y="53.5" textLength="38" lengthAdjust="spacingAndGlyphs">Release</text><text x="-117" y="-44.5" textLength="39" lengthAdjust="spacingAndGlyphs">Operate</text></g>
<circle class="blr" r="156" pathLength="360" stroke-dasharray="35 33.5 33.5 35.5 33.4 34 33.6 34.6 53.4 34" stroke-dashoffset="-23"/>
<text class="ob sw" y="8.3" font-size="24" textLength="104" lengthAdjust="spacingAndGlyphs">SOFTWARE</text>
<text class="hv b" y="43" font-size="46" textLength="258" lengthAdjust="spacingAndGlyphs">FRAGMENTED</text>
<text class="hv b" y="107.5" font-size="46" textLength="152" lengthAdjust="spacingAndGlyphs">DEVOPS</text>
</g>
<g id="platform" class="bl" transform="translate(1642,1773.7)">
<use href="#wheel"/>
<g class="lbl"><text x="-49" y="-112.5" textLength="40" lengthAdjust="spacingAndGlyphs">Monitor</text><text x="49" y="-112.5" textLength="22" lengthAdjust="spacingAndGlyphs">Plan</text><text x="117" y="-44.5" textLength="24" lengthAdjust="spacingAndGlyphs">Code</text><text x="117" y="53.5" textLength="26" lengthAdjust="spacingAndGlyphs">Build</text><text x="49" y="122.5" textLength="19" lengthAdjust="spacingAndGlyphs">Test</text><text x="-49" y="122.5" textLength="34" lengthAdjust="spacingAndGlyphs">Deploy</text><text x="-117" y="53.5" textLength="38" lengthAdjust="spacingAndGlyphs">Release</text><text x="-117" y="-44.5" textLength="39" lengthAdjust="spacingAndGlyphs">Operate</text></g>
<circle class="blr" r="156"/>
<text class="ob sw" y="8.3" font-size="24" textLength="104" lengthAdjust="spacingAndGlyphs">SOFTWARE</text>
<text class="hv b" y="43" font-size="46" textLength="205" lengthAdjust="spacingAndGlyphs">PLATFORM</text>
<text class="hv b" y="107.5" font-size="46" textLength="152" lengthAdjust="spacingAndGlyphs">DEVOPS</text>
</g>
</svg>
